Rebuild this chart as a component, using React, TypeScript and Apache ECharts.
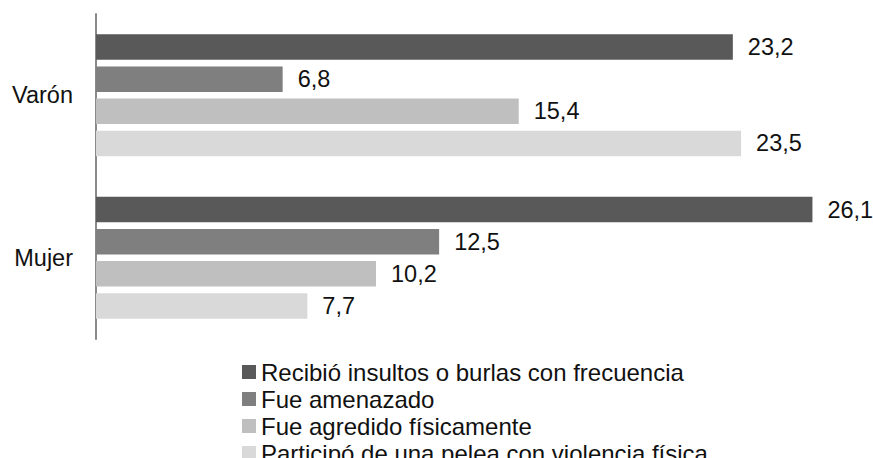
import React, { useEffect, useRef } from "react";
import * as echarts from "echarts";

const categories = ["Varón", "Mujer"];
const seriesNames = [
  "Recibió insultos o burlas con frecuencia",
  "Fue amenazado",
  "Fue agredido físicamente",
  "Participó de una pelea con violencia física",
];
const insultos = [23.2, 26.1];
const amenazado = [6.8, 12.5];
const agredido = [15.4, 10.2];
const pelea = [23.5, 7.7];
const colors = ["#595959", "#7f7f7f", "#bfbfbf", "#d9d9d9"];

const FONT = "'Liberation Sans', Arial, Helvetica, sans-serif";
const FS = 23.5;

export default function App() {
  const ref = useRef<HTMLDivElement>(null);
  useEffect(() => {
    if (!ref.current) return;
    const chart = echarts.init(ref.current, undefined, { renderer: "svg" });
    const values = [insultos, amenazado, agredido, pelea];
    chart.setOption({
      animation: false,
      backgroundColor: "#ffffff",
      textStyle: { fontFamily: FONT },
      grid: { left: 96, top: 14, height: 325, width: 768.6, containLabel: false },
      xAxis: {
        type: "value",
        min: 0,
        max: 28,
        show: false,
      },
      yAxis: {
        type: "category",
        data: categories,
        inverse: true,
        axisLine: { show: true, lineStyle: { color: "#8a8a8a", width: 2 } },
        axisTick: { show: false },
        axisLabel: { margin: 23, fontSize: FS, color: "#111", fontFamily: FONT },
      },
      legend: {
        orient: "vertical",
        left: 242,
        top: 360,
        height: 160,
        padding: 0,
        icon: "rect",
        itemWidth: 14,
        itemHeight: 14,
        itemGap: 3,
        textStyle: { fontSize: 24, lineHeight: 22, color: "#111", fontFamily: FONT },
        data: seriesNames,
      },
      series: values.map((v, i) => ({
        name: seriesNames[i],
        type: "bar",
        data: v,
        barWidth: 25.5,
        barGap: "26%",
        itemStyle: { color: colors[i] },
        label: {
          show: true,
          position: "right",
          distance: 15,
          fontSize: FS,
          color: "#111",
          fontFamily: FONT,
          formatter: (p: any) => String(p.value).replace(".", ","),
        },
      })),
    });
    return () => chart.dispose();
  }, []);
  return (
    <div
      ref={ref}
      style={{ position: "fixed", left: 0, top: 0, width: 873, height: 458 }}
    />
  );
}
